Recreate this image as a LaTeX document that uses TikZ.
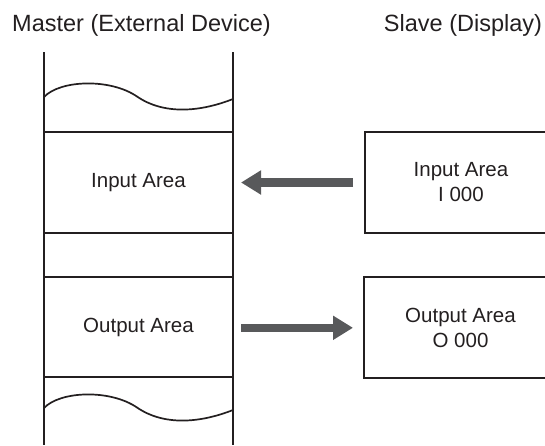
\documentclass[tikz,border=0pt]{standalone}
\usepackage{fontspec}
\setmainfont{Liberation Sans}
\usetikzlibrary{arrows.meta}
\definecolor{ink}{HTML}{231F20}
\definecolor{arrowgray}{HTML}{58595B}

\begin{document}
\begin{tikzpicture}[>={Triangle[length=20pt,width=23pt]},x=1pt,y=-1pt]
\tikzstyle{cell}=[draw=ink,line width=2pt,inner sep=0pt,text=ink,font=\fontsize{20.5pt}{25pt}\selectfont,align=center]
\tikzstyle{title}=[anchor=base,inner sep=0pt,text=ink,font=\fontsize{23.5pt}{28pt}\selectfont]
\tikzstyle{flow}=[->,arrowgray,line width=8.5pt]
	\clip (0,0) rectangle (545,445);

	\node[title] (master) at (141.5,31.7) {Master (External Device)};
	\node[title] (slave) at (463,31.7) {Slave (Display)};

	% master memory column
	\coordinate (colTL) at (44,52);
	\coordinate (colBL) at (44,445);
	\coordinate (colTR) at (233,52);
	\coordinate (colBR) at (233,445);
	\draw[ink,line width=1.8pt] (colTL) -- (colBL);
	\draw[ink,line width=1.8pt] (colTR) -- (colBR);

	\draw[ink,line width=1.7pt] (44,97) .. controls (60,80) and (110,78) .. (137,96.5)
		.. controls (164,115) and (200,112) .. (233,99);
	\draw[ink,line width=1.7pt] (44,408) .. controls (60,391) and (110,389) .. (137,407.5)
		.. controls (164,426) and (200,423) .. (233,410);

	\node[cell,minimum width=189pt,minimum height=101pt] (mIn) at (138.5,182.5) {Input Area};
	\node[cell,minimum width=189pt,minimum height=100pt] (mOut) at (138.5,327) {Output Area};

	% display side
	\node[cell,minimum width=192pt,minimum height=101pt] (sIn) at (461,182.5) {Input Area\\I 000};
	\node[cell,minimum width=193pt,minimum height=101pt] (sOut) at (460.5,327.8) {Output Area\\O 000};

	\draw[flow,shorten <=11pt,shorten >=7pt] (sIn.west) -- (sIn.west -| mIn.east);
	\draw[flow,shorten <=7pt,shorten >=10pt] (mOut.east |- sOut.west) -- (sOut.west);
\end{tikzpicture}
\end{document}
